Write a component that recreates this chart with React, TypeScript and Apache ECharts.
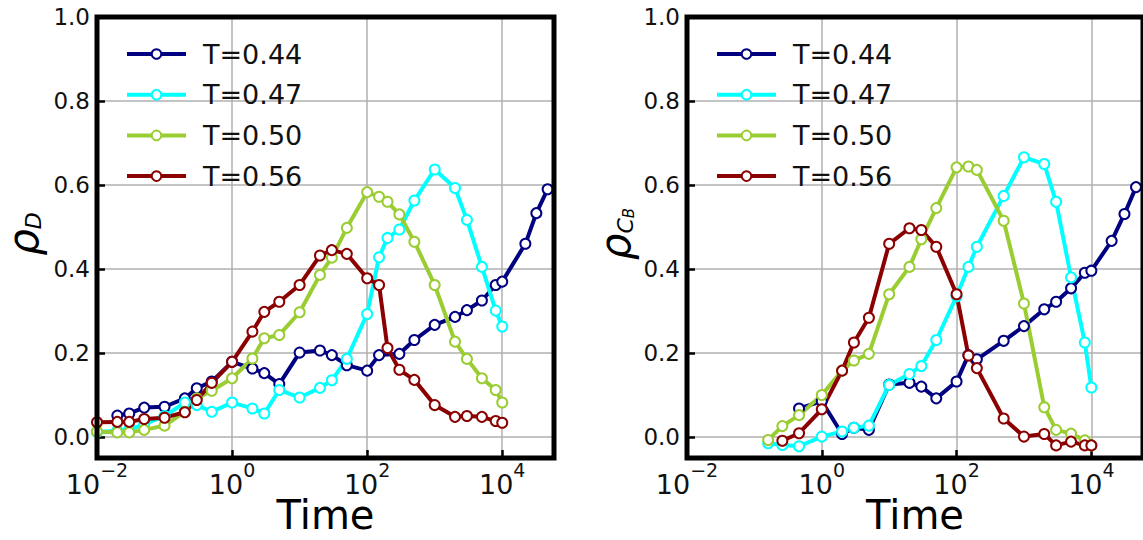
import React, { useEffect, useRef } from "react";
import * as echarts from "echarts";

// ---------- data ----------
const seriesNames = ["T=0.44", "T=0.47", "T=0.50", "T=0.56"];
const seriesColors = ["#000080", "#00ffff", "#9acd32", "#8b0000"];

// Left panel: rho_D
const timeD_044 = [0.02, 0.03, 0.05, 0.1, 0.2, 0.3, 0.5, 1, 2, 3, 5, 10, 20, 30, 50, 100, 150, 300, 500, 1000, 2000, 3000, 5000, 8000, 10000, 22000, 32000, 47000];
const rhoD_044 = [0.051, 0.056, 0.07, 0.072, 0.092, 0.116, 0.132, 0.179, 0.163, 0.152, 0.126, 0.201, 0.206, 0.195, 0.171, 0.158, 0.195, 0.198, 0.231, 0.267, 0.286, 0.302, 0.325, 0.362, 0.37, 0.46, 0.533, 0.59];
const timeD_047 = [0.01, 0.02, 0.03, 0.05, 0.1, 0.2, 0.3, 0.5, 1, 2, 3, 5, 10, 20, 30, 50, 100, 150, 200, 300, 500, 1000, 2000, 3000, 5000, 8000, 10000];
const rhoD_047 = [0.012, 0.015, 0.018, 0.03, 0.05, 0.082, 0.076, 0.06, 0.082, 0.068, 0.056, 0.112, 0.094, 0.117, 0.135, 0.186, 0.293, 0.428, 0.474, 0.494, 0.563, 0.637, 0.593, 0.517, 0.405, 0.301, 0.263];
const timeD_050 = [0.01, 0.02, 0.03, 0.05, 0.1, 0.2, 0.3, 0.5, 1, 2, 3, 5, 10, 20, 30, 50, 100, 150, 200, 300, 500, 1000, 2000, 3000, 5000, 8000, 10000];
const rhoD_050 = [0.013, 0.011, 0.011, 0.017, 0.027, 0.06, 0.092, 0.11, 0.14, 0.187, 0.235, 0.243, 0.297, 0.386, 0.427, 0.498, 0.583, 0.572, 0.56, 0.53, 0.465, 0.362, 0.227, 0.186, 0.14, 0.112, 0.082];
const timeD_056 = [0.01, 0.02, 0.03, 0.05, 0.1, 0.2, 0.3, 0.5, 1, 2, 3, 5, 10, 20, 30, 50, 100, 150, 200, 300, 500, 1000, 2000, 3000, 5000, 8000, 10000];
const rhoD_056 = [0.035, 0.036, 0.036, 0.043, 0.046, 0.059, 0.088, 0.129, 0.179, 0.251, 0.298, 0.322, 0.362, 0.432, 0.445, 0.436, 0.378, 0.362, 0.212, 0.16, 0.136, 0.076, 0.048, 0.05, 0.048, 0.038, 0.034];

// Right panel: rho_CB
const timeC_044 = [0.46, 1, 2, 3, 5, 10, 20, 30, 50, 100, 150, 200, 500, 1000, 2000, 3000, 5000, 8000, 10000, 20000, 31000, 46000];
const rhoC_044 = [0.068, 0.085, 0.007, 0.022, 0.017, 0.125, 0.129, 0.12, 0.092, 0.132, 0.195, 0.185, 0.229, 0.264, 0.304, 0.322, 0.354, 0.391, 0.396, 0.467, 0.531, 0.595];
const timeC_047 = [0.16, 0.26, 0.46, 1, 2, 3, 5, 10, 20, 30, 50, 100, 150, 200, 500, 1000, 2000, 3000, 5000, 8000, 10000];
const rhoC_047 = [-0.015, -0.019, -0.022, 0.001, 0.013, 0.022, 0.027, 0.124, 0.15, 0.169, 0.231, 0.335, 0.405, 0.453, 0.574, 0.666, 0.65, 0.56, 0.38, 0.225, 0.118];
const timeC_050 = [0.16, 0.26, 0.46, 1, 2, 3, 5, 10, 20, 30, 50, 100, 150, 200, 500, 1000, 2000, 3000, 5000, 8000, 10000];
const rhoC_050 = [-0.007, 0.026, 0.052, 0.1, 0.158, 0.182, 0.198, 0.34, 0.405, 0.471, 0.545, 0.642, 0.644, 0.636, 0.515, 0.318, 0.071, 0.017, 0.008, -0.008, -0.02];
const timeC_056 = [0.26, 0.46, 1, 2, 3, 5, 10, 20, 30, 50, 100, 150, 200, 500, 1000, 2000, 3000, 5000, 8000, 10000];
const rhoC_056 = [-0.009, 0.009, 0.066, 0.158, 0.225, 0.284, 0.46, 0.497, 0.493, 0.453, 0.34, 0.194, 0.164, 0.044, 0.001, 0.007, -0.02, -0.011, -0.02, -0.02];

const timeMin = 0.01;
const timeMax = 58400;
const xTickStepDecades = 2;
const yMin = -0.05;
const yMax = 1.0;
const xAxisTitle = "Time";

const panelTimes = [
  [timeD_044, timeD_047, timeD_050, timeD_056],
  [timeC_044, timeC_047, timeC_050, timeC_056],
];
const panelValues = [
  [rhoD_044, rhoD_047, rhoD_050, rhoD_056],
  [rhoC_044, rhoC_047, rhoC_050, rhoC_056],
];

// ---------- styling ----------
const FONT = "DejaVu Sans";
const gridLefts = [97, 687];
const gridWidths = [457, 456];

export default function App() {
  const ref = useRef<HTMLDivElement>(null);

  useEffect(() => {
    if (!ref.current) return;
    const chart = echarts.init(ref.current, undefined, { renderer: "svg" });

    const xLabelFormatter = (v: number) => {
      const e = Math.round(v);
      if (Math.abs(v - e) > 1e-6) return "";
      const s = e < 0 ? "\u2212" + -e : String(e);
      return `{b|10}{s|${s}}`;
    };
    const yLabelFormatter = (v: number) => (v < -1e-9 ? "" : v.toFixed(1));

    const grids = gridLefts.map((left, i) => ({
      left,
      top: 17,
      width: gridWidths[i],
      height: 441,
      show: true,
      borderColor: "#000",
      borderWidth: 5,
      backgroundColor: "transparent",
      containLabel: false,
      outerBoundsMode: "none",
      z: 3,
    }));

    const tickStyle = { show: true, inside: true, length: 8, lineStyle: { color: "#000", width: 2.5 } };

    const xAxes = gridLefts.map((_, i) => ({
      type: "value",
      gridIndex: i,
      position: "bottom",
      min: Math.log10(timeMin),
      max: Math.log10(timeMax),
      interval: xTickStepDecades,
      axisLine: { show: false, onZero: false },
      axisTick: tickStyle,
      axisLabel: {
        formatter: xLabelFormatter,
        margin: 2,
        color: "#111",
        rich: {
          b: { fontFamily: FONT, fontSize: 27, lineHeight: 38, verticalAlign: "bottom", color: "#111" },
          s: { fontFamily: FONT, fontSize: 19, lineHeight: 19, verticalAlign: "top", color: "#111" },
        },
      },
      splitLine: { show: true, lineStyle: { color: "#b0b0b0", width: 1.5 } },
    }));

    const yAxes = gridLefts.map((_, i) => ({
      type: "value",
      gridIndex: i,
      position: "left",
      min: yMin,
      max: yMax,
      splitNumber: 5,
      axisLine: { show: false, onZero: false },
      axisTick: tickStyle,
      axisLabel: {
        formatter: yLabelFormatter,
        margin: 7,
        fontFamily: FONT,
        fontSize: 23,
        color: "#111",
      },
      splitLine: { show: true, lineStyle: { color: "#b0b0b0", width: 1.5 } },
    }));

    const series: any[] = [];
    panelTimes.forEach((times, p) => {
      times.forEach((t, k) => {
        const vals = panelValues[p][k];
        series.push({
          type: "line",
          name: seriesNames[k],
          xAxisIndex: p,
          yAxisIndex: p,
          data: t.map((tt, j) => [Math.log10(tt), vals[j]]),
          color: seriesColors[k],
          symbol: "emptyCircle",
          symbolSize: 10,
          lineStyle: { width: 4, color: seriesColors[k] },
          itemStyle: { borderWidth: 1.5, color: seriesColors[k] },
          emphasis: { disabled: true },
          z: 2,
        });
      });
    });

    const legends = gridLefts.map((left) => ({
      data: seriesNames,
      orient: "vertical",
      left: left + 23,
      top: 34,
      itemWidth: 59,
      itemHeight: 12,
      itemGap: 10.7,
      selectedMode: false,
      lineStyle: { width: 4 },
      textStyle: { fontFamily: FONT, fontSize: 27, color: "#111", lineHeight: 30, padding: [0, 0, 0, 12] },
    }));

    const yNameRich = {
      r: { fontFamily: FONT, fontStyle: "italic", fontSize: 42, lineHeight: 40, verticalAlign: "bottom", color: "#000" },
      s: { fontFamily: FONT, fontStyle: "italic", fontSize: 22, lineHeight: 13, verticalAlign: "bottom", color: "#000" },
      ss: { fontFamily: FONT, fontStyle: "italic", fontSize: 15, lineHeight: 7, verticalAlign: "bottom", color: "#000" },
    };

    const xTitles = gridLefts.map((left, i) => ({
      type: "text",
      x: left + gridWidths[i] / 2,
      y: 515,
      style: {
        text: xAxisTitle,
        fontFamily: FONT,
        fontSize: 40,
        fill: "#000",
        align: "center",
        verticalAlign: "middle",
      },
    }));

    const option: any = {
      animation: false,
      backgroundColor: "#fff",
      grid: grids,
      xAxis: xAxes,
      yAxis: yAxes,
      legend: legends,
      series,
      graphic: [
        ...xTitles,
        {
          type: "text",
          x: 24,
          y: 234,
          rotation: Math.PI / 2,
          style: { text: "{r|\u03c1}{s|D}", rich: yNameRich, align: "center", verticalAlign: "middle" },
        },
        {
          type: "text",
          x: 616,
          y: 234,
          rotation: Math.PI / 2,
          style: { text: "{r|\u03c1}{s|C}{ss|B}", rich: yNameRich, align: "center", verticalAlign: "middle" },
        },
      ],
    };

    chart.setOption(option);
    return () => chart.dispose();
  }, []);

  return (
    <div
      ref={ref}
      style={{ position: "fixed", left: 0, top: 0, width: 1143, height: 540, background: "#fff" }}
    />
  );
}
